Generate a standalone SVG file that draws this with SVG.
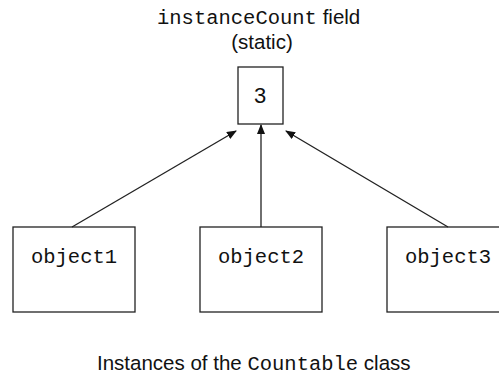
<svg xmlns="http://www.w3.org/2000/svg" width="499" height="375" viewBox="0 0 499 375">
<style>
.box{fill:#fff;stroke:#222;stroke-width:1.3}
.mono{font-family:"Liberation Mono","Courier New",monospace;fill:#111}
.sans{font-family:"Liberation Sans",Arial,sans-serif;fill:#111}
.conn{stroke:#222;stroke-width:1.3;fill:none;marker-end:url(#ah)}
</style>
<defs>
<marker id="ah" markerWidth="10" markerHeight="8" refX="9" refY="4" orient="auto" markerUnits="userSpaceOnUse">
<path d="M0,0 L10,4 L0,8 Z" fill="#111"/>
</marker>
</defs>
<rect width="499" height="375" fill="#fff"/>
<g id="title">
<text x="157" y="24"><tspan class="mono" font-size="20.5">instanceCount</tspan><tspan class="sans" font-size="20.5"> field</tspan></text>
<text class="sans" x="262" y="49" text-anchor="middle" font-size="20.5">(static)</text>
</g>
<g id="field">
<rect class="box" x="238" y="67" width="45" height="57"/>
<text class="sans" x="260" y="103" text-anchor="middle" font-size="22">3</text>
</g>
<g id="object1">
<rect class="box" x="13" y="227" width="122" height="85"/>
<text class="mono" x="74" y="263" text-anchor="middle" font-size="20.5">object1</text>
</g>
<g id="object2">
<rect class="box" x="200" y="227" width="122" height="85"/>
<text class="mono" x="261" y="263" text-anchor="middle" font-size="20.5">object2</text>
</g>
<g id="object3">
<rect class="box" x="387" y="227" width="122" height="85"/>
<text class="mono" x="448" y="263" text-anchor="middle" font-size="20.5">object3</text>
</g>
<g id="connectors">
<line class="conn" x1="72" y1="227" x2="236" y2="131"/>
<line class="conn" x1="261" y1="227" x2="261" y2="125"/>
<line class="conn" x1="448" y1="227" x2="286" y2="131"/>
</g>
<g id="caption">
<text x="97" y="370" font-size="20.5"><tspan class="sans">Instances of the </tspan><tspan class="mono">Countable</tspan><tspan class="sans"> class</tspan></text>
</g>
</svg>
